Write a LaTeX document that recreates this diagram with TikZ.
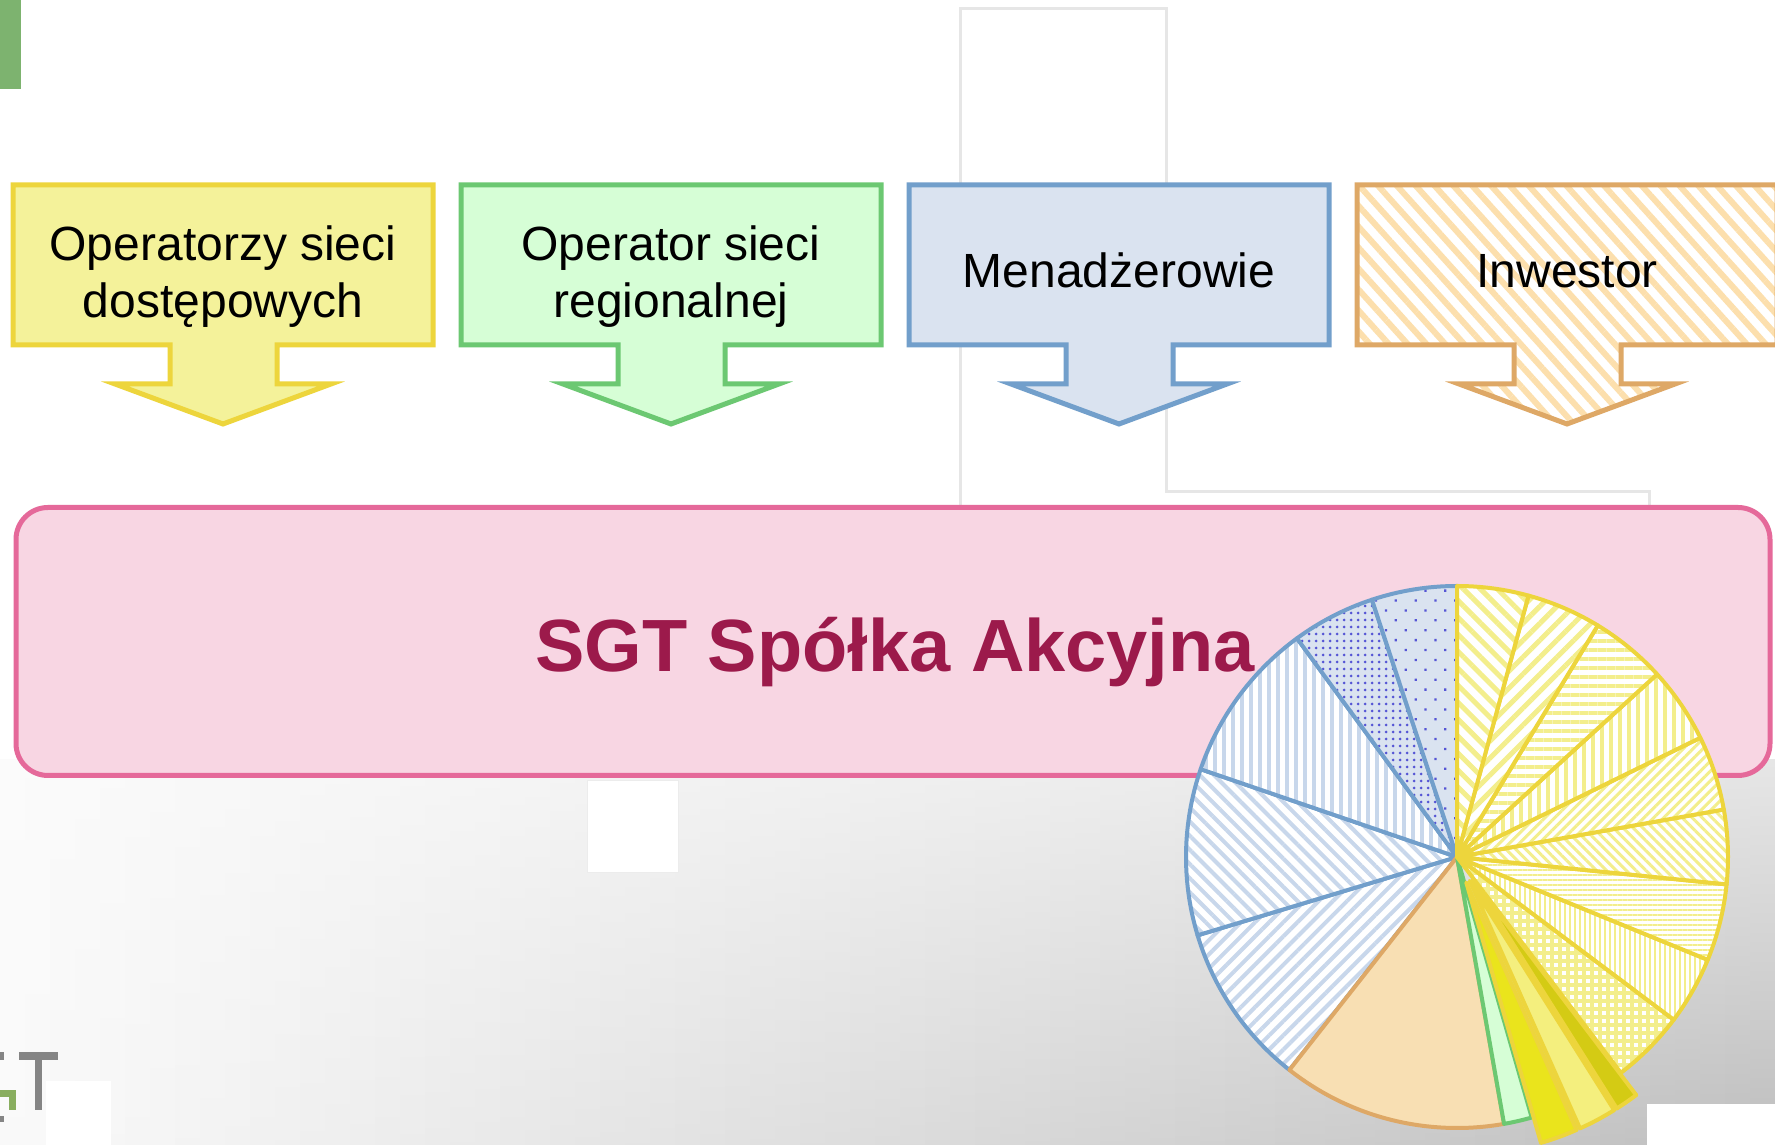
\documentclass[tikz,border=0pt]{standalone}
\usepackage{fontspec}
\setmainfont{Liberation Sans}
\usetikzlibrary{patterns.meta}
\definecolor{yfill}{HTML}{F4F29A}
\definecolor{yborder}{HTML}{EDD53C}
\definecolor{gfill}{HTML}{D6FED6}
\definecolor{gborder}{HTML}{6CC872}
\definecolor{bfill}{HTML}{DAE3F0}
\definecolor{bborder}{HTML}{729FCB}
\definecolor{oborder}{HTML}{DEA866}
\definecolor{ostripe}{HTML}{FCDFAD}
\definecolor{pinkf}{HTML}{F8D6E3}
\definecolor{pinkb}{HTML}{E5699A}
\definecolor{titlec}{HTML}{9C1A4B}
\definecolor{ystripe}{HTML}{F3EE8C}
\definecolor{bstripe}{HTML}{C8D7EB}
\definecolor{dotc}{HTML}{5555D5}
\definecolor{ofill}{HTML}{F8DFB3}
\definecolor{darkY}{HTML}{D4CB14}
\definecolor{lightY}{HTML}{F4EF7E}
\definecolor{brightY}{HTML}{EAE41C}
\definecolor{greenbar}{HTML}{7DB36F}
\definecolor{logogray}{HTML}{858585}
\definecolor{logogreen}{HTML}{89AE5F}
\definecolor{frameline}{HTML}{E6E6E6}
\definecolor{gUL}{HTML}{FBFBFB}
\definecolor{gUR}{HTML}{E6E6E6}
\definecolor{gLL}{HTML}{FAFAFA}
\definecolor{gLR}{HTML}{BEBEBE}
\newcommand{\pslice}[4]{\draw[#1] ({(#2+#3)/2}:#4pt) -- ++(#2:271pt) arc[start angle=#2, end angle=#3, radius=271pt] -- cycle;}
\tikzset{
  abox/.style={line width=5pt},
  lbl/.style={font=\fontsize{48pt}{57pt}\selectfont, inner sep=0pt},
  yslice/.style={draw=yborder, line width=4pt, line join=round, preaction={fill=white}, pattern color=ystripe},
  bslice/.style={draw=bborder, line width=4pt, line join=round, preaction={fill=white}, pattern color=bstripe},
  dslice/.style={draw=bborder, line width=4pt, line join=round, preaction={fill=bfill}, pattern color=dotc},
  xslice/.style={draw=yborder, line width=4pt, line join=round},
}
\begin{document}
\begin{tikzpicture}[x=1pt,y=1pt]
\useasboundingbox (0,0) rectangle (1775,1145);
\clip (0,0) rectangle (1775,1145);
\fill[white] (0,0) rectangle (1775,1145);
% bottom gradient (strips approximating a bilinear shading)
\foreach \i in {0,...,70} {
  \pgfmathtruncatemacro\p{round(100*(\i+0.5)/71)}
  \shade[top color=gUR!\p!gUL, bottom color=gLR!\p!gLL] ({\i*25},0) rectangle ({\i*25+26},385);
}
\fill[white] (1647,0) rectangle (1775,41);
\fill[white] (46,0) rectangle (111,64);
\filldraw[fill=white, draw={rgb,255:red,236;green,236;blue,236}, line width=1pt] (587,272) rectangle (678,364);
% logo fragment
\fill[logogray] (19,85) rectangle (58,93);
\fill[logogray] (35,35) rectangle (42,85);
\fill[logogray] (0,85) rectangle (4,93);
\fill[logogray] (0,23) rectangle (4,29);
\fill[logogreen] (0,48) rectangle (16,55);
\fill[logogreen] (9,35) rectangle (16,55);
% green bar
\fill[greenbar] (0,1056) rectangle (21,1145);
% light frame lines
\draw[frameline, line width=3pt] (960,640) -- (960,1136) -- (1166,1136) -- (1166,653) -- (1649,653) -- (1649,640);
% arrow boxes
\begin{scope}[shift={(13,960)}]
\draw[abox, draw=yborder, fill=yfill] (0,0) -- (420,0) -- (420,-160) -- (264,-160) -- (264,-199) -- (318,-199) -- (210,-239) -- (102,-199) -- (157,-199) -- (157,-160) -- (0,-160) -- cycle;
\end{scope}
\begin{scope}[shift={(461,960)}]
\draw[abox, draw=gborder, fill=gfill] (0,0) -- (420,0) -- (420,-160) -- (264,-160) -- (264,-199) -- (318,-199) -- (210,-239) -- (102,-199) -- (157,-199) -- (157,-160) -- (0,-160) -- cycle;
\end{scope}
\begin{scope}[shift={(909,960)}]
\draw[abox, draw=bborder, fill=bfill] (0,0) -- (420,0) -- (420,-160) -- (264,-160) -- (264,-199) -- (318,-199) -- (210,-239) -- (102,-199) -- (157,-199) -- (157,-160) -- (0,-160) -- cycle;
\end{scope}
\begin{scope}[shift={(1357,960)}]
\draw[abox, draw=oborder, preaction={fill=white}, pattern={Lines[angle=-48, distance=14pt, line width=6pt]}, pattern color=ostripe] (0,0) -- (420,0) -- (420,-160) -- (264,-160) -- (264,-199) -- (318,-199) -- (210,-239) -- (102,-199) -- (157,-199) -- (157,-160) -- (0,-160) -- cycle;
\end{scope}
\node[lbl, anchor=base] (t1) at (223,827) {\begin{tabular}[b]{@{}c@{}}Operatorzy sieci\\dostępowych\end{tabular}};
\node[lbl, anchor=base] (t2) at (671,827) {\begin{tabular}[b]{@{}c@{}}Operator sieci\\regionalnej\end{tabular}};
\node[lbl, anchor=base] (t3) at (1119,857) {Menadżerowie};
\node[lbl, anchor=base] (t4) at (1567,857) {Inwestor};
% company box
\node[draw=pinkb, fill=pinkf, line width=5pt, rounded corners=32pt, minimum width=1754pt, minimum height=268pt, inner sep=0pt] (sgt) at (893,503.5) {};
\node[anchor=base, inner sep=0pt, text=titlec, font=\bfseries\fontsize{74pt}{80pt}\selectfont] (title) at (895,473) {SGT Spółka Akcyjna};
% pie chart
\begin{scope}[shift={(1457,288)}]
\pslice{bslice, pattern={Lines[angle=45, distance=10pt, line width=4pt]}}{196.8}{231.8}{0}
\pslice{bslice, pattern={Lines[angle=-45, distance=10pt, line width=4pt]}}{161.1}{196.8}{0}
\pslice{bslice, pattern={Lines[angle=90, distance=9pt, line width=4pt]}}{126.2}{161.1}{0}
\pslice{dslice, pattern={Dots[distance=7pt, radius=1.5pt]}}{108.3}{126.2}{0}
\pslice{dslice, pattern={Dots[angle=45, distance=14pt, radius=1.6pt]}}{90}{108.3}{0}
\pslice{draw=oborder, fill=ofill, line width=4pt, line join=round}{231.8}{280}{0}
\pslice{draw=gborder, fill=gfill, line width=4pt, line join=round}{280}{286}{0}
\pslice{yslice, pattern={Hatch[angle=0, distance=8pt, line width=4pt]}}{-52.8}{-36.9}{0}
\pslice{yslice, pattern={Lines[angle=90, distance=5pt, line width=2.5pt]}}{-36.9}{-22.3}{0}
\pslice{yslice, pattern={Lines[angle=0, distance=5pt, line width=2.5pt]}}{-22.3}{-5.8}{0}
\pslice{yslice, pattern={Lines[angle=-45, distance=7pt, line width=3pt]}}{-5.8}{10.1}{0}
\pslice{yslice, pattern={Lines[angle=45, distance=7pt, line width=3pt]}}{10.1}{26.1}{0}
\pslice{yslice, pattern={Lines[angle=90, distance=9pt, line width=4pt]}}{26.1}{42.4}{0}
\pslice{yslice, pattern={Lines[angle=0, distance=9pt, line width=4pt]}}{42.4}{58.7}{0}
\pslice{yslice, pattern={Lines[angle=45, distance=12pt, line width=5pt]}}{58.7}{74.7}{0}
\pslice{yslice, pattern={Lines[angle=-45, distance=12pt, line width=5pt]}}{74.7}{90}{0}
\pslice{xslice, fill=brightY}{-74}{-66}{27}
\pslice{xslice, fill=lightY}{-66}{-57.8}{27}
\pslice{xslice, fill=darkY}{-57.8}{-52.8}{27}
\end{scope}
\end{tikzpicture}
\end{document}
